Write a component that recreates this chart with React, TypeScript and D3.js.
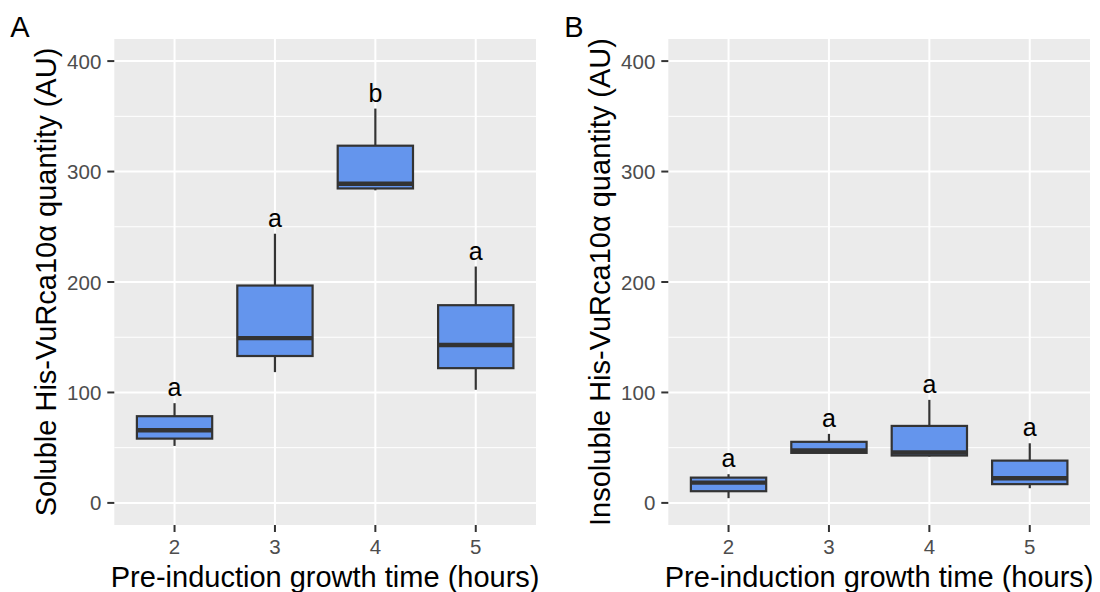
import React, { useEffect, useRef } from 'react';
import * as d3 from 'd3';

// growth times (hours)
const hours = ['2', '3', '4', '5'];
const yTicks = [0, 100, 200, 300, 400];
const yMinor = [50, 150, 250, 350];

// Soluble fraction: box stats per hour
const solubleLow = [51.6, 118.4, 283, 102.4];
const solubleQ1 = [58.2, 133, 284.7, 122];
const solubleMedian = [65.8, 149.2, 289, 143];
const solubleQ3 = [78.5, 196.8, 323.4, 179];
const solubleHigh = [90.3, 243.7, 357, 214];
const solubleLetters = ['a', 'a', 'b', 'a'];

// Insoluble fraction
const insolubleLow = [4.3, 45.2, 42, 13.3];
const insolubleQ1 = [10.6, 45.3, 42.9, 17];
const insolubleMedian = [18.4, 47.6, 45.6, 22.3];
const insolubleQ3 = [22.9, 55.3, 69.7, 38.3];
const insolubleHigh = [26, 62.5, 93.3, 54];
const insolubleLetters = ['a', 'a', 'a', 'a'];

const FONT = '"Liberation Sans", Arial, Helvetica, sans-serif';

type Panel = {
  tag: string;
  yTitle: string;
  left: number;
  low: number[];
  q1: number[];
  median: number[];
  q3: number[];
  high: number[];
  letters: string[];
};

const panels: Panel[] = [
  {
    tag: 'A',
    yTitle: 'Soluble His-VuRca10α quantity (AU)',
    left: 114.3,
    low: solubleLow,
    q1: solubleQ1,
    median: solubleMedian,
    q3: solubleQ3,
    high: solubleHigh,
    letters: solubleLetters,
  },
  {
    tag: 'B',
    yTitle: 'Insoluble His-VuRca10α quantity (AU)',
    left: 668.3,
    low: insolubleLow,
    q1: insolubleQ1,
    median: insolubleMedian,
    q3: insolubleQ3,
    high: insolubleHigh,
    letters: insolubleLetters,
  },
];

const App = () => {
  const svgRef = useRef<SVGSVGElement>(null);

  useEffect(() => {
    const svg = d3.select(svgRef.current);
    svg.selectAll('*').remove();

    const plotW = 421.7;
    const top = 39;
    const bottom = 525;

    const yScale = d3.scaleLinear().domain([-20, 420]).range([bottom, top]);

    panels.forEach((p) => {
      const x = d3.scalePoint<string>().domain(hours).range([p.left, p.left + plotW]).padding(0.6);
      const right = p.left + plotW;
      const g = svg.append('g');
      const boxW = x.step() * 0.75;

      // panel background
      g.append('rect')
        .attr('x', p.left)
        .attr('y', top)
        .attr('width', plotW)
        .attr('height', bottom - top)
        .attr('fill', '#EBEBEB');

      // minor grid
      g.selectAll('.minor')
        .data(yMinor)
        .enter()
        .append('line')
        .attr('x1', p.left)
        .attr('x2', right)
        .attr('y1', (d) => yScale(d))
        .attr('y2', (d) => yScale(d))
        .attr('stroke', '#fff')
        .attr('stroke-width', 1);

      // major grid
      g.selectAll('.hmajor')
        .data(yTicks)
        .enter()
        .append('line')
        .attr('x1', p.left)
        .attr('x2', right)
        .attr('y1', (d) => yScale(d))
        .attr('y2', (d) => yScale(d))
        .attr('stroke', '#fff')
        .attr('stroke-width', 2);

      g.selectAll('.vmajor')
        .data(hours)
        .enter()
        .append('line')
        .attr('x1', (d) => x(d)!)
        .attr('x2', (d) => x(d)!)
        .attr('y1', top)
        .attr('y2', bottom)
        .attr('stroke', '#fff')
        .attr('stroke-width', 2);

      // boxplots
      hours.forEach((h, i) => {
        const cx = x(h)!;
        g.append('line')
          .attr('x1', cx)
          .attr('x2', cx)
          .attr('y1', yScale(p.high[i]))
          .attr('y2', yScale(p.q3[i]))
          .attr('stroke', '#333333')
          .attr('stroke-width', 2.2);
        g.append('line')
          .attr('x1', cx)
          .attr('x2', cx)
          .attr('y1', yScale(p.q1[i]))
          .attr('y2', yScale(p.low[i]))
          .attr('stroke', '#333333')
          .attr('stroke-width', 2.2);
        g.append('rect')
          .attr('x', cx - boxW / 2)
          .attr('y', yScale(p.q3[i]))
          .attr('width', boxW)
          .attr('height', yScale(p.q1[i]) - yScale(p.q3[i]))
          .attr('fill', '#6495ED')
          .attr('stroke', '#333333')
          .attr('stroke-width', 2.2);
        g.append('line')
          .attr('x1', cx - boxW / 2)
          .attr('x2', cx + boxW / 2)
          .attr('y1', yScale(p.median[i]))
          .attr('y2', yScale(p.median[i]))
          .attr('stroke', '#333333')
          .attr('stroke-width', 4.4);
        g.append('text')
          .attr('x', cx)
          .attr('y', yScale(p.high[i]) - 7)
          .attr('text-anchor', 'middle')
          .attr('font-family', FONT)
          .attr('font-size', 25)
          .attr('fill', '#000')
          .text(p.letters[i]);
      });

      // y axis ticks and labels
      g.selectAll('.ytick')
        .data(yTicks)
        .enter()
        .append('line')
        .attr('x1', p.left - 7)
        .attr('x2', p.left)
        .attr('y1', (d) => yScale(d))
        .attr('y2', (d) => yScale(d))
        .attr('stroke', '#333333')
        .attr('stroke-width', 2);
      g.selectAll('.ylab')
        .data(yTicks)
        .enter()
        .append('text')
        .attr('x', p.left - 13)
        .attr('y', (d) => yScale(d) + 7.5)
        .attr('text-anchor', 'end')
        .attr('font-family', FONT)
        .attr('font-size', 20.5)
        .attr('fill', '#4D4D4D')
        .text((d) => d);

      // x axis ticks and labels
      g.selectAll('.xtick')
        .data(hours)
        .enter()
        .append('line')
        .attr('x1', (d) => x(d)!)
        .attr('x2', (d) => x(d)!)
        .attr('y1', bottom)
        .attr('y2', bottom + 7)
        .attr('stroke', '#333333')
        .attr('stroke-width', 2);
      g.selectAll('.xlab')
        .data(hours)
        .enter()
        .append('text')
        .attr('x', (d) => x(d)!)
        .attr('y', 554)
        .attr('text-anchor', 'middle')
        .attr('font-family', FONT)
        .attr('font-size', 20.5)
        .attr('fill', '#4D4D4D')
        .text((d) => d);

      // titles
      g.append('text')
        .attr('x', p.left + plotW / 2)
        .attr('y', 587)
        .attr('text-anchor', 'middle')
        .attr('font-family', FONT)
        .attr('font-size', 29)
        .attr('fill', '#000')
        .text('Pre-induction growth time (hours)');
      g.append('text')
        .attr('transform', `translate(${p.left - 58}, ${(top + bottom) / 2}) rotate(-90)`)
        .attr('text-anchor', 'middle')
        .attr('font-family', FONT)
        .attr('font-size', 29)
        .attr('fill', '#000')
        .text(p.yTitle);
      g.append('text')
        .attr('x', p.left - 104)
        .attr('y', 37)
        .attr('font-family', FONT)
        .attr('font-size', 29)
        .attr('fill', '#000')
        .text(p.tag);
    });
  }, []);

  return (
    <svg
      ref={svgRef}
      width={1100}
      height={592}
      style={{ position: 'absolute', left: 0, top: 0, background: '#fff' }}
    />
  );
};

export default App;
